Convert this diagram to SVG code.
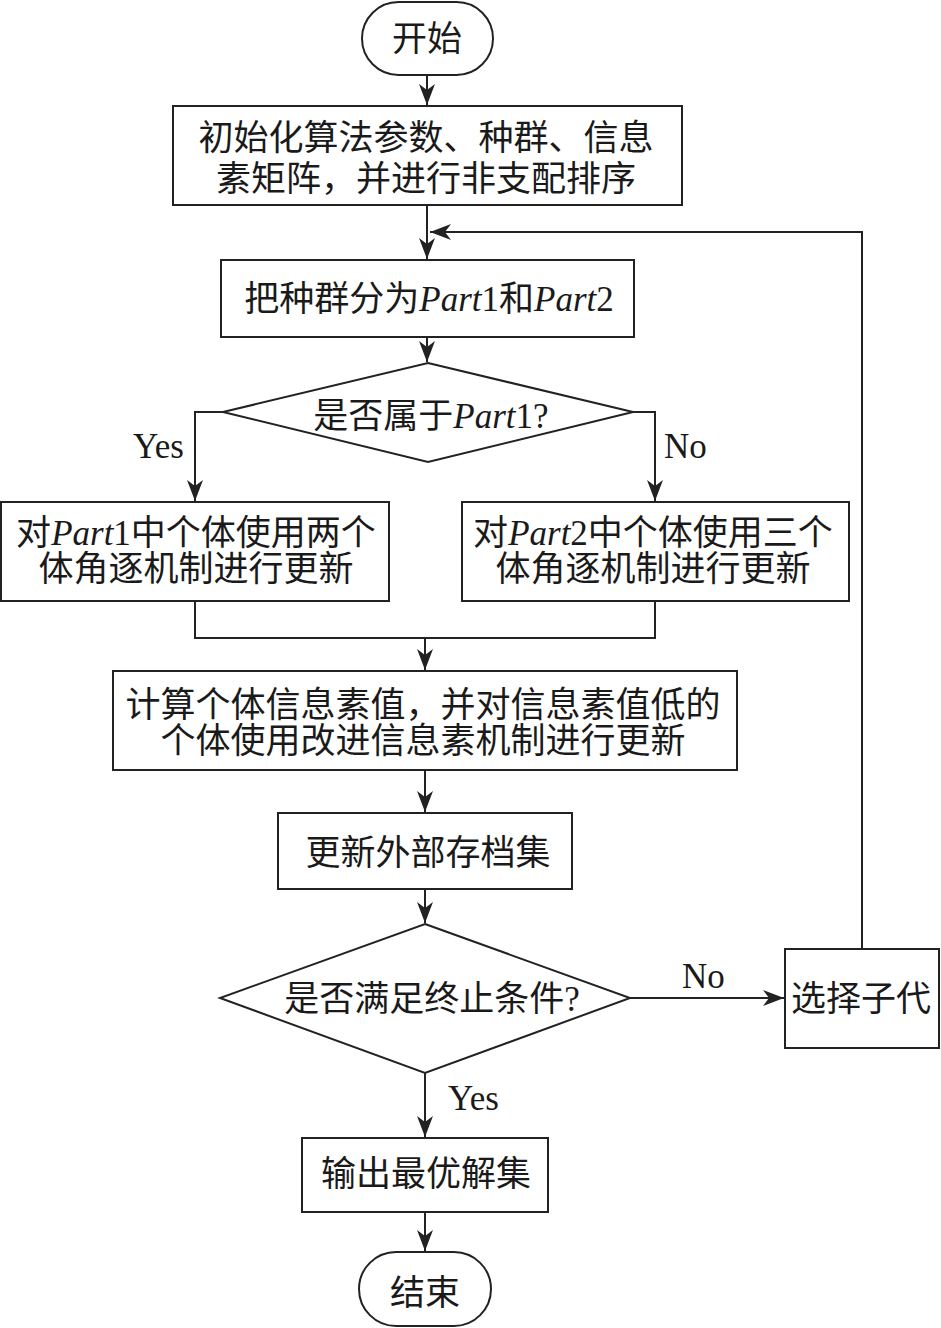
<svg xmlns="http://www.w3.org/2000/svg" width="941" height="1328" viewBox="0 0 941 1328">
<defs>
<style>
.box{fill:#fff;stroke:#222;stroke-width:2}
.ln{fill:none;stroke:#222;stroke-width:2}
.t{font-family:"Liberation Serif","Noto Sans CJK SC",serif;font-size:35px;fill:#1a1a1a;text-anchor:middle}
.lb{font-family:"Liberation Serif",serif;font-size:35px;fill:#1a1a1a}
.it{font-style:italic}
</style>
<marker id="ah" markerUnits="userSpaceOnUse" markerWidth="24" markerHeight="18" viewBox="-22 -9 24 18" refX="0" refY="0" orient="auto">
<path d="M0,0 L-21,-8 L-15,0 L-21,8 Z" fill="#222"/>
</marker>
</defs>
<rect width="941" height="1328" fill="#fff"/>

<g id="connectors">
<path class="ln" d="M427,75 V105" marker-end="url(#ah)"/>
<path class="ln" d="M427,205 V259" marker-end="url(#ah)"/>
<path class="ln" d="M862,949 V232 H430" marker-end="url(#ah)"/>
<path class="ln" d="M427,337 V362" marker-end="url(#ah)"/>
<path class="ln" d="M223,412 H195 V501" marker-end="url(#ah)"/>
<path class="ln" d="M633,412 H655 V501" marker-end="url(#ah)"/>
<path class="ln" d="M195,601 V638 H655 V601"/>
<path class="ln" d="M425,638 V670" marker-end="url(#ah)"/>
<path class="ln" d="M425,770 V812" marker-end="url(#ah)"/>
<path class="ln" d="M425,889 V923" marker-end="url(#ah)"/>
<path class="ln" d="M630,998 H784" marker-end="url(#ah)"/>
<path class="ln" d="M425,1073 V1137" marker-end="url(#ah)"/>
<path class="ln" d="M425,1212 V1251" marker-end="url(#ah)"/>
<text class="lb" x="133" y="458">Yes</text>
<text class="lb" x="664" y="458">No</text>
<text class="lb" x="682" y="988">No</text>
<text class="lb" x="448" y="1110">Yes</text>
</g>

<g id="start">
<rect class="box" x="362" y="2" width="131" height="73" rx="36.5"/>
<text class="t" x="427" y="51">开始</text>
</g>

<g id="init">
<rect class="box" x="173" y="106" width="509" height="99"/>
<text class="t" x="426" y="150">初始化算法参数、种群、信息</text>
<text class="t" x="426" y="191">素矩阵，并进行非支配排序</text>
</g>

<g id="split">
<rect class="box" x="221" y="260" width="413" height="77"/>
<text class="t" x="429" y="311">把种群分为<tspan class="it">Part</tspan>1和<tspan class="it">Part</tspan>2</text>
</g>

<g id="decision1">
<polygon class="box" points="428,363 633,412 428,462 223,412"/>
<text class="t" x="431" y="428">是否属于<tspan class="it">Part</tspan>1?</text>
</g>

<g id="part1">
<rect class="box" x="1" y="502" width="388" height="99"/>
<text class="t" x="196" y="545">对<tspan class="it">Part</tspan>1中个体使用两个</text>
<text class="t" x="196" y="581">体角逐机制进行更新</text>
</g>

<g id="part2">
<rect class="box" x="462" y="502" width="387" height="99"/>
<text class="t" x="653" y="545">对<tspan class="it">Part</tspan>2中个体使用三个</text>
<text class="t" x="653" y="581">体角逐机制进行更新</text>
</g>

<g id="pheromone">
<rect class="box" x="113" y="671" width="624" height="99"/>
<text class="t" x="423" y="717">计算个体信息素值，并对信息素值低的</text>
<text class="t" x="423" y="753">个体使用改进信息素机制进行更新</text>
</g>

<g id="archive">
<rect class="box" x="278" y="813" width="294" height="76"/>
<text class="t" x="428" y="865">更新外部存档集</text>
</g>

<g id="decision2">
<polygon class="box" points="425,924 630,998 425,1073 220,998"/>
<text class="t" x="432" y="1011">是否满足终止条件?</text>
</g>

<g id="select">
<rect class="box" x="785" y="949" width="154" height="99"/>
<text class="t" x="861" y="1011">选择子代</text>
</g>

<g id="output">
<rect class="box" x="302" y="1138" width="246" height="74"/>
<text class="t" x="426" y="1186">输出最优解集</text>
</g>

<g id="end">
<rect class="box" x="359" y="1252" width="132" height="74" rx="37"/>
<text class="t" x="425" y="1305">结束</text>
</g>
</svg>
